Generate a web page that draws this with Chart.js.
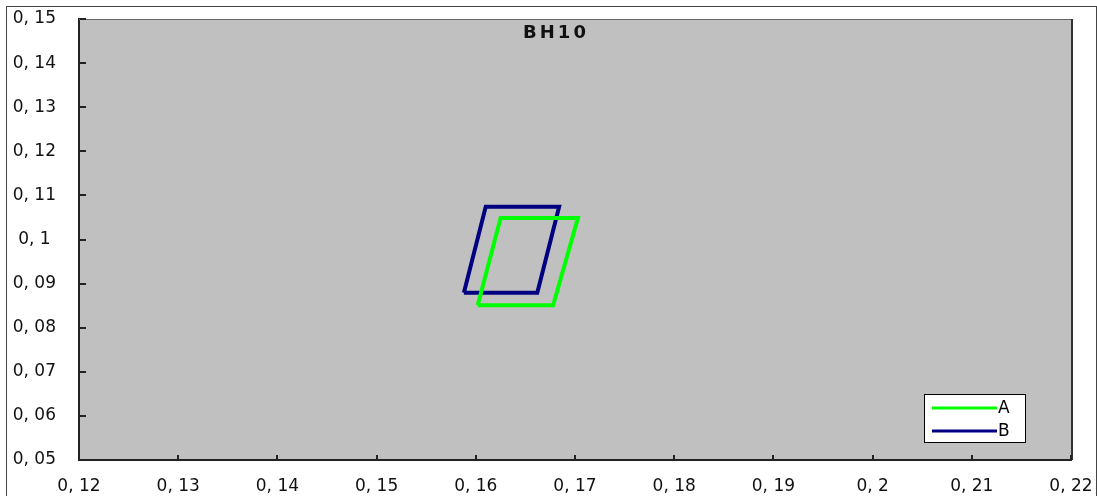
<!DOCTYPE html>
<html>
<head>
<meta charset="utf-8">
<script src="https://cdn.jsdelivr.net/npm/chart.js@4/dist/chart.umd.min.js"></script>
<style>
    html, body { margin: 0; padding: 0; background: #fff; }
    #wrap { width: 1097px; height: 496px; }
</style>
</head>
<body>
<div id="wrap"><canvas id="chart" width="1097" height="496"></canvas></div>
<script>
const chartTitle = 'BH10';
const seriesNames = ['A', 'B'];
const seriesColors = ['#00ff00', '#000080'];

// corners of each outline (closed, first point repeated)
const aX = [0.1602, 0.1625, 0.1703, 0.1678, 0.1602];
const aY = [0.0851, 0.1049, 0.1049, 0.0851, 0.0851];
const bX = [0.1588, 0.1610, 0.1684, 0.1662, 0.1588];
const bY = [0.0879, 0.1074, 0.1074, 0.0879, 0.0879];

const xTickLabels = ['0, 12', '0, 13', '0, 14', '0, 15', '0, 16', '0, 17', '0, 18', '0, 19', '0, 2', '0, 21', '0, 22'];
const yTickLabels = ['0, 05', '0, 06', '0, 07', '0, 08', '0, 09', '0, 1', '0, 11', '0, 12', '0, 13', '0, 14', '0, 15'];

const toPoints = (xs, ys) => xs.map((x, i) => ({ x: x, y: ys[i] }));

const FONT = 'DejaVu Sans';

const framePlugin = {
    id: 'frame',
    beforeDraw(chart) {
        const { ctx, chartArea: a } = chart;
        ctx.save();
        ctx.fillStyle = '#c0c0c0';
        ctx.fillRect(a.left, a.top, a.right - a.left, a.bottom - a.top);
        ctx.restore();
    },
    afterDraw(chart) {
        const { ctx, chartArea: a } = chart;
        ctx.save();
        // outer frame
        ctx.strokeStyle = '#444';
        ctx.lineWidth = 1;
        ctx.strokeRect(6.5, 6.5, 1090, 520);
        // top and right edge of plot area
        ctx.strokeStyle = '#666';
        ctx.beginPath();
        ctx.moveTo(a.left, a.top + 0.5);
        ctx.lineTo(a.right, a.top + 0.5);
        ctx.stroke();
        ctx.strokeStyle = '#333';
        ctx.lineWidth = 2;
        ctx.beginPath();
        ctx.moveTo(a.right + 1, a.top);
        ctx.lineTo(a.right + 1, a.bottom);
        ctx.stroke();

        // inward tick marks
        const xs = chart.scales.x, ys = chart.scales.y;
        ctx.strokeStyle = '#222';
        ctx.lineWidth = 2;
        ctx.beginPath();
        xs.ticks.forEach(t => {
            const px = Math.round(xs.getPixelForValue(t.value));
            ctx.moveTo(px, a.bottom);
            ctx.lineTo(px, a.bottom - 5);
        });
        ys.ticks.forEach(t => {
            const py = Math.round(ys.getPixelForValue(t.value));
            ctx.moveTo(a.left + 1, py);
            ctx.lineTo(a.left + 7, py);
        });
        ctx.stroke();

        // title inside plot
        ctx.fillStyle = '#111';
        ctx.font = 'bold 18px "' + FONT + '"';
        ctx.textAlign = 'center';
        ctx.textBaseline = 'middle';
        ctx.letterSpacing = '3px';
        ctx.fillText(chartTitle, 556, 33);
        ctx.letterSpacing = '0px';

        // legend box
        const lw = 101, lh = 48;
        const lx = a.right - 46 - lw, ly = a.bottom - 18 - lh;
        ctx.fillStyle = '#fff';
        ctx.fillRect(lx, ly, lw, lh);
        ctx.strokeStyle = '#000';
        ctx.lineWidth = 1;
        ctx.strokeRect(lx + 0.5, ly + 0.5, lw, lh);
        ctx.font = '17px "' + FONT + '"';
        ctx.textAlign = 'left';
        chart.data.datasets.forEach((ds, i) => {
            const yy = ly + 14 + i * 23;
            ctx.strokeStyle = ds.borderColor;
            ctx.lineWidth = 3;
            ctx.beginPath();
            ctx.moveTo(lx + 8, yy);
            ctx.lineTo(lx + 73, yy);
            ctx.stroke();
            ctx.fillStyle = '#000';
            ctx.fillText(ds.label, lx + 74, yy + 1);
        });
        ctx.restore();
    }
};

new Chart(document.getElementById('chart'), {
    type: 'scatter',
    data: {
        datasets: [
            {
                label: seriesNames[0],
                data: toPoints(aX, aY),
                showLine: true,
                borderColor: seriesColors[0],
                borderWidth: 4,
                pointRadius: 0,
                tension: 0
            },
            {
                label: seriesNames[1],
                data: toPoints(bX, bY),
                showLine: true,
                borderColor: seriesColors[1],
                borderWidth: 4,
                pointRadius: 0,
                tension: 0
            }
        ]
    },
    options: {
        responsive: false,
        animation: false,
        layout: { padding: { left: 8, top: 19, right: 26, bottom: 0 } },
        plugins: {
            legend: { display: false },
            title: { display: false },
            tooltip: { enabled: false }
        },
        scales: {
            x: {
                type: 'linear',
                min: 0.12,
                max: 0.22,
                afterFit: s => {
                    s.height = 36;
                    s.paddingLeft = 0;
                    s.paddingRight = 0;
                },
                grid: { display: false, drawTicks: false },
                border: { display: true, color: '#222', width: 2 },
                ticks: {
                    stepSize: 0.01,
                    padding: 16,
                    color: '#111',
                    font: { family: FONT, size: 17 },
                    maxRotation: 0,
                    autoSkip: false,
                    callback: (v, i) => xTickLabels[i]
                }
            },
            y: {
                type: 'linear',
                min: 0.05,
                max: 0.15,
                afterFit: s => {
                    s.width = 71;
                    s.paddingTop = 0;
                    s.paddingBottom = 0;
                },
                grid: { display: false, drawTicks: false },
                border: { display: true, color: '#222', width: 2 },
                ticks: {
                    stepSize: 0.01,
                    padding: 23,
                    crossAlign: 'center',
                    color: '#111',
                    font: { family: FONT, size: 17 },
                    autoSkip: false,
                    callback: (v, i) => yTickLabels[i]
                }
            }
        }
    },
    plugins: [framePlugin]
});
</script>
</body>
</html>
